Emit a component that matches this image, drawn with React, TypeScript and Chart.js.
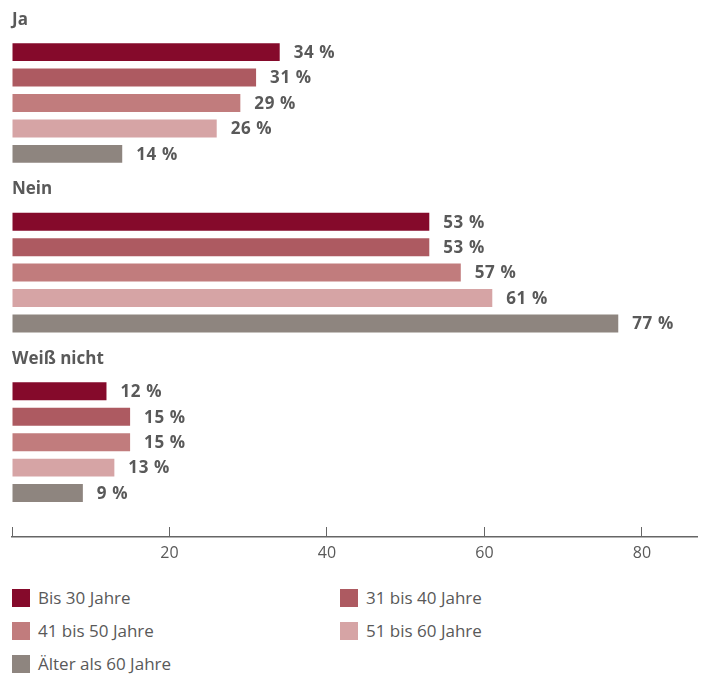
import React, { useEffect, useRef } from "react";
import { Chart, registerables } from "chart.js";

Chart.register(...registerables);

const categories = ["Ja", "Nein", "Weiß nicht"];
const seriesNames = ["Bis 30 Jahre", "31 bis 40 Jahre", "41 bis 50 Jahre", "51 bis 60 Jahre", "Älter als 60 Jahre"];
const bis30 = [34, 53, 12];
const von31bis40 = [31, 53, 15];
const von41bis50 = [29, 57, 15];
const von51bis60 = [26, 61, 13];
const aelter60 = [14, 77, 9];
const seriesValues = [bis30, von31bis40, von41bis50, von51bis60, aelter60];
const seriesColors = ["#850a2b", "#ad5a61", "#c17c7d", "#d6a4a5", "#8e857f"];
const xTickValues = [0, 20, 40, 60, 80];
const xMax = 87;

const FONT = "'Open Sans', 'DejaVu Sans', sans-serif";
const TEXT = "#595959";

const valueLabels = {
  id: "valueLabels",
  afterDatasetsDraw(chart: any) {
    const ctx = chart.ctx;
    ctx.save();
    ctx.font = `bold 17px ${FONT}`;
    ctx.fillStyle = TEXT;
    ctx.textBaseline = "middle";
    ctx.textAlign = "left";
    try {
      (ctx as any).letterSpacing = "0.6px";
    } catch (e) {}
    chart.data.datasets.forEach((ds: any, i: number) => {
      const meta = chart.getDatasetMeta(i);
      meta.data.forEach((bar: any, j: number) => {
        ctx.fillText(`${ds.data[j]} %`, bar.x + 14, bar.y + 1);
      });
    });
    ctx.restore();
  },
};

const fixTicks = (s: any) => {
  s.ticks = xTickValues.map((v) => ({ value: v }));
};

export default function App() {
  const ref = useRef<HTMLCanvasElement | null>(null);

  useEffect(() => {
    if (!ref.current) return;
    const chart = new Chart(ref.current, {
      type: "bar",
      data: {
        labels: categories,
        datasets: seriesNames.map((name, i) => ({
          label: name,
          data: seriesValues[i],
          backgroundColor: seriesColors[i],
          borderWidth: 0,
          categoryPercentage: 0.75,
          barPercentage: 0.706,
        })),
      },
      options: {
        indexAxis: "y",
        animation: false,
        responsive: true,
        maintainAspectRatio: false,
        layout: { padding: { top: 9, left: 0, right: 3, bottom: 0 } },
        plugins: {
          legend: { display: false },
          tooltip: { enabled: false },
        },
        scales: {
          y: {
            type: "category",
            position: "left",
            grid: { display: false, drawTicks: false, tickLength: 0 },
            border: { display: false },
            ticks: {
              mirror: true,
              padding: 0,
              labelOffset: -83,
              color: TEXT,
              font: { family: FONT, size: 17, weight: "bold" },
            },
          },
          x: {
            type: "linear",
            position: "bottom",
            weight: 0,
            min: 0,
            max: xMax,
            grid: {
              display: true,
              drawOnChartArea: false,
              drawTicks: true,
              tickLength: 9,
              color: "#666666",
              lineWidth: 1,
            },
            border: { display: false },
            ticks: { display: false, padding: 0 },
            afterBuildTicks: fixTicks,
            afterFit: (s: any) => {
              s.height = 10;
            },
          },
          x2: {
            type: "linear",
            position: "bottom",
            weight: 1,
            min: 0,
            max: xMax,
            grid: { display: false, drawTicks: false, tickLength: 0 },
            border: { display: true, color: "#666666", width: 1.5 },
            ticks: {
              autoSkip: false,
              padding: 4,
              color: TEXT,
              font: { family: FONT, size: 16, lineHeight: 1.5 },
              callback: (v: any) => (v === 0 ? "" : String(v)),
            },
            afterBuildTicks: fixTicks,
            afterFit: (s: any) => {
              s.height = 30;
            },
          },
        },
      },
      plugins: [valueLabels],
    } as any);
    return () => chart.destroy();
  }, []);

  return (
    <div style={{ width: 692, fontFamily: FONT }}>
      <div style={{ position: "relative", width: 692, height: 559 }}>
        <canvas ref={ref} />
      </div>
      <div
        style={{
          marginTop: 14,
          marginLeft: 4,
          display: "grid",
          gridTemplateColumns: "328px 1fr",
        }}
      >
        {seriesNames.map((name, i) => (
          <div key={name} style={{ display: "flex", alignItems: "center", height: 33 }}>
            <span
              style={{
                display: "inline-block",
                width: 18,
                height: 18,
                background: seriesColors[i],
                marginRight: 8,
              }}
            />
            <span style={{ fontSize: 17, color: TEXT }}>{name}</span>
          </div>
        ))}
      </div>
    </div>
  );
}
